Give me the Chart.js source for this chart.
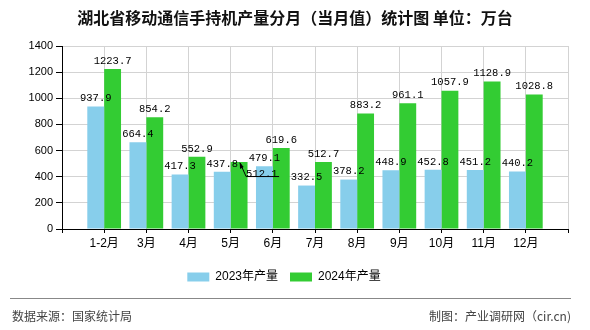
<!DOCTYPE html>
<html>
<head>
<meta charset="utf-8">
<script src="https://cdn.jsdelivr.net/npm/chart.js@4.4.1/dist/chart.umd.min.js"></script>
<style>
html,body{margin:0;padding:0;background:#fff;}
#wrap{position:relative;width:590px;height:330px;overflow:hidden;}
#chart{position:absolute;left:0;top:0;}
.title{position:absolute;left:0;top:7px;width:590px;text-align:center;font:bold 16px "Noto Sans CJK SC",sans-serif;color:#111;line-height:20px;}
.rule{position:absolute;left:10px;top:298px;width:561px;height:1px;background:#888;}
.foot{position:absolute;top:308px;font:12px "Noto Sans CJK SC",sans-serif;color:#444;line-height:16px;}
</style>
</head>
<body>
<div id="wrap">
  <canvas id="chart" width="590" height="330"></canvas>
  <div class="title">湖北省移动通信手持机产量分月（当月值）统计图 单位：万台</div>
  <div class="rule"></div>
  <div class="foot" style="left:12px">数据来源：国家统计局</div>
  <div class="foot" style="right:19px">制图：产业调研网（cir.cn)</div>
</div>
<script>
// ====== Data ======
const months = ['1-2月','3月','4月','5月','6月','7月','8月','9月','10月','11月','12月'];
const output2023 = [937.9, 664.4, 417.3, 437.8, 479.1, 332.5, 378.2, 448.9, 452.8, 451.2, 440.2];
const output2024 = [1223.7, 854.2, 552.9, 512.1, 619.6, 512.7, 883.2, 961.1, 1057.9, 1128.9, 1028.8];
const yTicks = [0, 200, 400, 600, 800, 1000, 1200, 1400];

// empty slot at each end, like the original axis
const pad = arr => [null, ...arr, null];
const labels = ['', ...months, ''];

// ====== Value labels ======
const leaderLabels = { '1:5月': true }; // 2024 label for 5月 pushed aside with a pointer line
const valueLabels = {
  id: 'valueLabels',
  afterDatasetsDraw(chart){
    const ctx = chart.ctx;
    ctx.save();
    ctx.font = '10.5px "Liberation Mono", monospace';
    ctx.fillStyle = '#000';
    chart.data.datasets.forEach((ds, di) => {
      chart.getDatasetMeta(di).data.forEach((bar, i) => {
        const v = ds.data[i];
        if (v == null) return;
        const txt = v.toFixed(1);
        if (leaderLabels[di + ':' + labels[i]]) {
          ctx.strokeStyle = '#000'; ctx.lineWidth = 1;
          ctx.beginPath();
          ctx.moveTo(bar.x + 1, bar.y + 1);
          ctx.lineTo(bar.x + 7, bar.y + 14.5);
          ctx.lineTo(bar.x + 40, bar.y + 14.5);
          ctx.stroke();
          ctx.beginPath();
          ctx.moveTo(bar.x + 0.5, bar.y);
          ctx.lineTo(bar.x + 1, bar.y + 7);
          ctx.lineTo(bar.x + 4.5, bar.y + 5);
          ctx.closePath(); ctx.fill();
          ctx.textAlign = 'left';
          ctx.fillText(txt, bar.x + 7, bar.y + 12);
          return;
        }
        ctx.textAlign = 'center';
        ctx.fillText(txt, bar.x, bar.y - 8);
      });
    });
    ctx.restore();
  }
};

Chart.defaults.font.family = '"Liberation Sans","Noto Sans CJK SC",sans-serif';
Chart.defaults.color = '#000';

new Chart(document.getElementById('chart'), {
  type: 'bar',
  data: {
    labels,
    datasets: [
      { label: '2023年产量', data: pad(output2023), backgroundColor: '#87CEEB' },
      { label: '2024年产量', data: pad(output2024), backgroundColor: '#33CC33' }
    ]
  },
  options: {
    responsive: false,
    animation: false,
    layout: { padding: { top: 46, right: 22, bottom: 37, left: 0 } },
    datasets: { bar: { categoryPercentage: 0.8, barPercentage: 1.0 } },
    plugins: {
      legend: {
        position: 'bottom',
        labels: { boxWidth: 22, boxHeight: 9, padding: 12, font: { size: 12 }, color: '#000' }
      },
      tooltip: { enabled: false }
    },
    scales: {
      x: {
        offset: false,
        grid: { offset: false, color: '#d3d3d3', tickColor: '#000', tickLength: 4 },
        border: { color: '#000' },
        ticks: { autoSkip: false, maxRotation: 0, padding: 3, font: { size: 12 } },
        afterFit: s => { s.height = 30; }
      },
      y: {
        min: 0, max: 1400,
        afterBuildTicks: s => { s.ticks = yTicks.map(v => ({ value: v })); },
        grid: { color: '#d3d3d3', tickColor: '#000', tickLength: 6 },
        border: { color: '#000' },
        ticks: { padding: 3, font: { size: 11 }, callback: v => String(v) },
        afterFit: s => { s.width = 62; }
      }
    }
  },
  plugins: [valueLabels]
});
</script>
</body>
</html>
